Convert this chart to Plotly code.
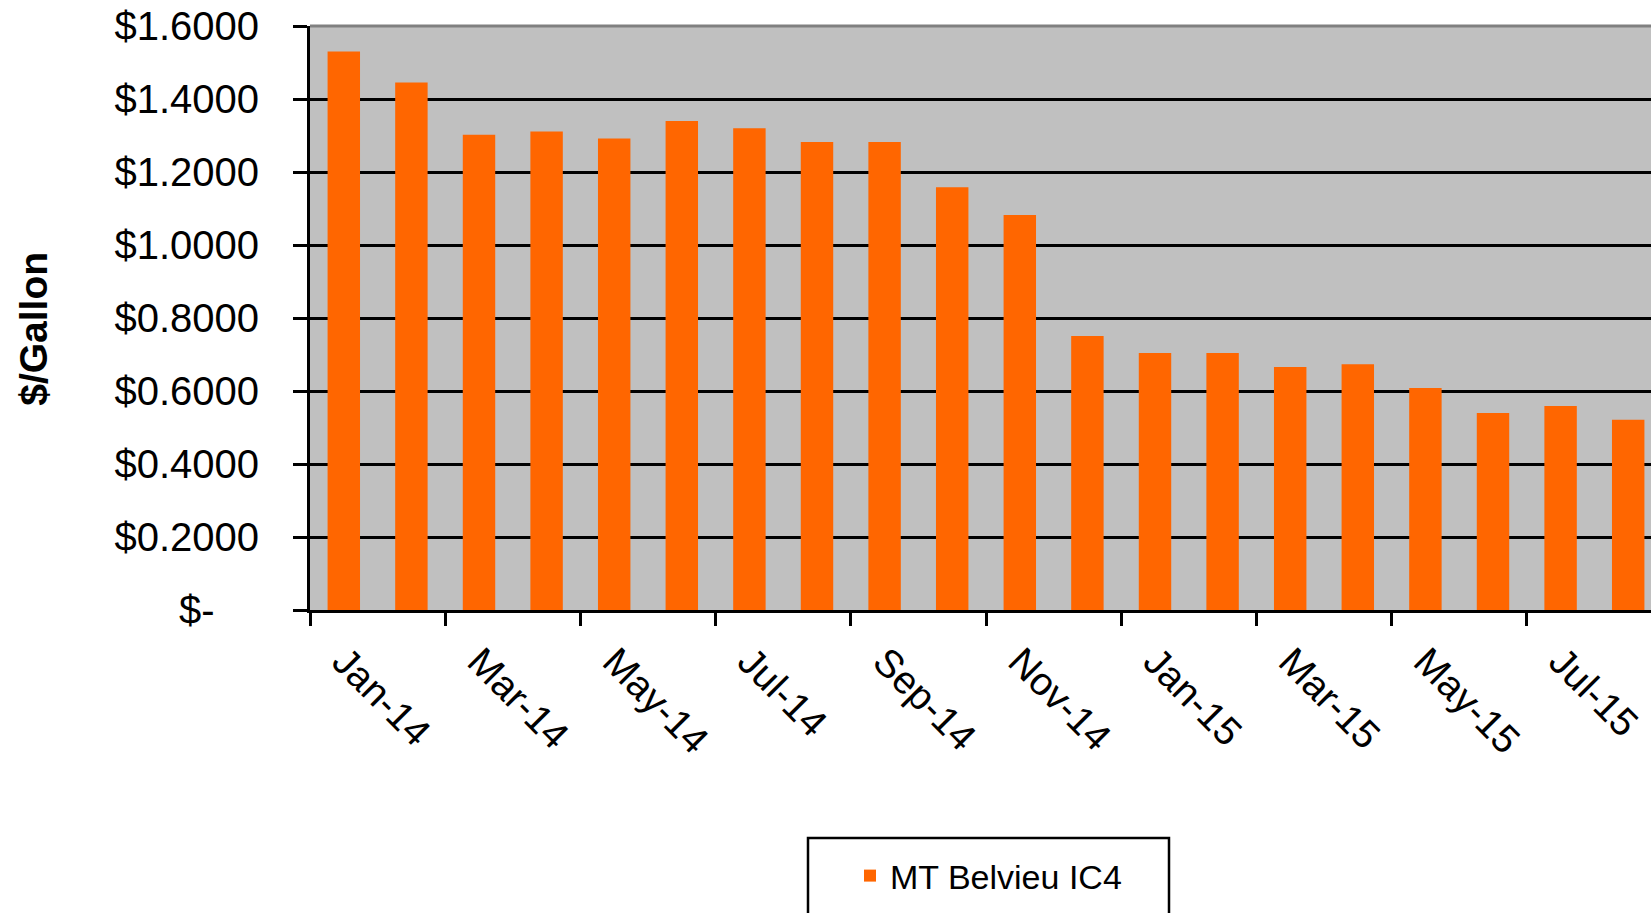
import plotly.graph_objects as go

# Monthly Mont Belvieu isobutane (IC4) price, $/gallon
months = ["Jan-14", "Feb-14", "Mar-14", "Apr-14", "May-14", "Jun-14", "Jul-14",
          "Aug-14", "Sep-14", "Oct-14", "Nov-14", "Dec-14", "Jan-15", "Feb-15",
          "Mar-15", "Apr-15", "May-15", "Jun-15", "Jul-15", "Aug-15"]
price = [1.530, 1.445, 1.302, 1.311, 1.292, 1.340, 1.320, 1.282, 1.282, 1.158,
         1.082, 0.751, 0.704, 0.704, 0.666, 0.673, 0.608, 0.540, 0.559, 0.521]
series_name = "MT Belvieu IC4"

y_ticks = [0, 0.2, 0.4, 0.6, 0.8, 1.0, 1.2, 1.4, 1.6]
y_labels = ["$-\u00a0\u00a0\u00a0\u00a0", "$0.2000", "$0.4000", "$0.6000", "$0.8000",
            "$1.0000", "$1.2000", "$1.4000", "$1.6000"]

W, H = 1651, 913
LEFT, TOP, BOTTOM = 310, 26, 610
CAT_W = 67.6  # pixel width of one month slot

plot_w = W - LEFT
plot_h = BOTTOM - TOP
x_max = -0.5 + plot_w / CAT_W

def px_x(p):
    return (p - LEFT) / plot_w

def px_y(p):
    return (BOTTOM - p) / plot_h

FONT = "Liberation Sans, Arial, sans-serif"

fig = go.Figure(
    go.Bar(
        x=months,
        y=price,
        name=series_name,
        marker=dict(color="#FF6600", line=dict(width=0)),
        width=0.48,
    )
)

fig.update_layout(
    width=W,
    height=H,
    margin=dict(l=LEFT, r=0, t=TOP, b=H - BOTTOM, pad=0),
    paper_bgcolor="white",
    plot_bgcolor="#C0C0C0",
    font=dict(family=FONT, color="#000000"),
    showlegend=True,
    legend=dict(
        x=px_x(850),
        y=px_y(876),
        xanchor="left",
        yanchor="middle",
        bgcolor="rgba(0,0,0,0)",
        borderwidth=0,
        font=dict(size=34, family=FONT, color="#000000"),
    ),
    shapes=[
        # legend frame (continues below the page edge)
        dict(type="rect", xref="paper", yref="paper",
             x0=px_x(808), x1=px_x(1169), y0=px_y(838), y1=px_y(980),
             line=dict(color="#000000", width=2.5), fillcolor="rgba(0,0,0,0)",
             layer="above"),
        # grey upper border of the plot area
        dict(type="line", xref="paper", yref="paper", x0=0, x1=1, y0=1, y1=1,
             line=dict(color="#808080", width=3), layer="above"),
    ],
)

fig.update_xaxes(
    type="category",
    categoryorder="array",
    categoryarray=months,
    range=[-0.5, x_max],
    tickmode="linear",
    tick0=0,
    dtick=2,
    tickson="boundaries",
    ticks="outside",
    ticklen=13,
    tickwidth=3,
    tickcolor="#000000",
    tickangle=45,
    tickfont=dict(size=39, family=FONT, color="#000000"),
    ticklabelstandoff=10,
    showline=True,
    linecolor="#000000",
    linewidth=3,
    showgrid=False,
    zeroline=False,
)

fig.update_yaxes(
    range=[0, 1.6],
    tickmode="array",
    tickvals=y_ticks,
    ticktext=y_labels,
    ticks="outside",
    ticklen=14,
    tickwidth=3,
    tickcolor="#000000",
    tickfont=dict(size=40, family=FONT, color="#000000"),
    ticklabelstandoff=26,
    showline=True,
    linecolor="#000000",
    linewidth=3,
    showgrid=True,
    gridcolor="#000000",
    gridwidth=2.5,
    zeroline=False,
    title=dict(text="<b>$/Gallon\u00a0\u00a0</b>", font=dict(size=39, family=FONT, color="#000000"),
               standoff=55),
)

fig.write_html("out.html")
